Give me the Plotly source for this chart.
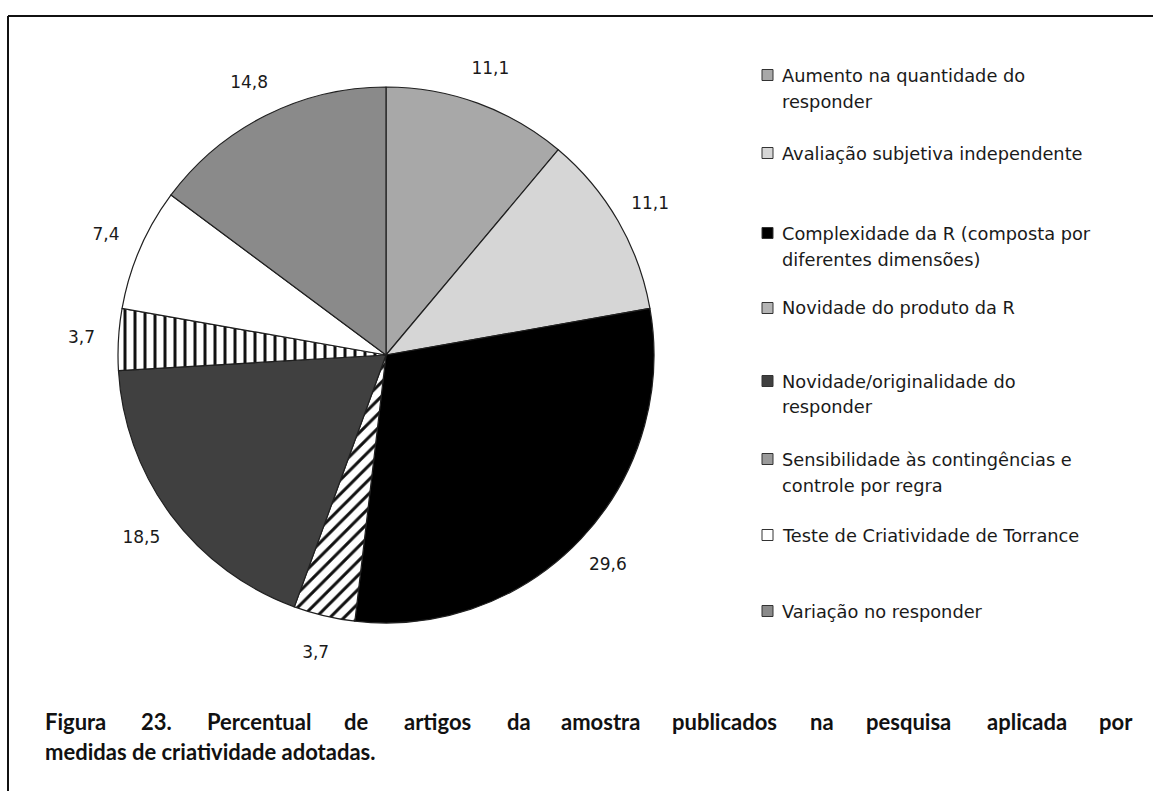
import plotly.graph_objects as go

W, H = 1153, 791

categories = [
    "Aumento na quantidade do<br>responder",
    "Avaliação subjetiva independente",
    "Complexidade da R (composta por<br>diferentes dimensões)",
    "Novidade do produto da R",
    "Novidade/originalidade do<br>responder",
    "Sensibilidade às contingências e<br>controle por regra",
    "Teste de Criatividade de Torrance",
    "Variação no responder",
]
values = [11.1, 11.1, 29.6, 3.7, 18.5, 3.7, 7.4, 14.8]
value_labels = ["11,1", "11,1", "29,6", "3,7", "18,5", "3,7", "7,4", "14,8"]
colors = ["#a8a8a8", "#d6d6d6", "#000000", "#b4b4b4", "#404040", "#9a9a9a", "#ffffff", "#8a8a8a"]
patterns = ["", "", "", "/", "", "|", "", ""]
caption_line1 = ["Figura", "23.", "Percentual", "de", "artigos", "da", "amostra",
                 "publicados", "na", "pesquisa", "aplicada", "por"]
caption_line2 = "medidas de criatividade adotadas."


def px(x):
    return x / W


def py(y):
    return 1 - y / H


cx, cy, r = 386, 355, 268
r_out = 332
r_in = 278

fig = go.Figure()
fig.add_trace(go.Pie(
    labels=categories,
    values=values,
    textinfo="none",
    sort=False,
    direction="clockwise",
    rotation=0,
    marker=dict(
        colors=colors,
        line=dict(color="#202020", width=1.2),
        pattern=dict(shape=patterns, fgcolor="#111111", size=10, solidity=0.3),
    ),
    domain=dict(x=[px(cx - r), px(cx + r)], y=[py(cy + r), py(cy - r)]),
    showlegend=False,
    hoverinfo="label+value",
))
# transparent ring carrying the value labels just outside the pie
fig.add_trace(go.Pie(
    labels=categories,
    values=values,
    text=value_labels,
    textinfo="text",
    textposition="inside",
    insidetextorientation="horizontal",
    textfont=dict(family="DejaVu Sans", size=17, color="#1a1a1a"),
    sort=False,
    direction="clockwise",
    rotation=0,
    hole=r_in / r_out,
    marker=dict(colors=["rgba(0,0,0,0)"] * len(values), line=dict(width=0)),
    domain=dict(x=[px(cx - r_out), px(cx + r_out)], y=[py(cy + r_out), py(cy - r_out)]),
    showlegend=False,
    hoverinfo="skip",
))

annotations = []
shapes = []

# Legend (manual)
legend_y = [75, 153, 233, 308, 381, 459, 535, 611]
line_gap = 26
for lab, col, yy in zip(categories, colors, legend_y):
    shapes.append(dict(type="rect", xref="paper", yref="paper",
                       x0=px(762), x1=px(773), y0=py(yy + 5.5), y1=py(yy - 5.5),
                       fillcolor=col, line=dict(color="#333333", width=1)))
    for k, part in enumerate(lab.split("<br>")):
        annotations.append(dict(text=part, xref="paper", yref="paper",
                                x=px(780), y=py(yy + k * line_gap), xanchor="left", yanchor="middle",
                                align="left", showarrow=False,
                                font=dict(family="DejaVu Sans", size=17.8, color="#1a1a1a")))

# Caption line 1 (justified)
left, right = 43, 1135
cw = 10.5
widths = [len(w) * cw for w in caption_line1]
gap = (right - left - sum(widths)) / (len(caption_line1) - 1)
xpos = left
first_idx = len(annotations)
for word, w in zip(caption_line1, widths):
    annotations.append(dict(text="<b>%s</b>" % word, xref="paper", yref="paper",
                            x=px(xpos + w / 2), y=py(721), xanchor="center", yanchor="middle",
                            showarrow=False, font=dict(family="Lato", size=22, color="#111111")))
    xpos += w + gap
annotations[-1]["x"] = px(right)
annotations[-1]["xanchor"] = "right"
annotations[first_idx]["x"] = px(left)
annotations[first_idx]["xanchor"] = "left"
annotations.append(dict(text="<b>%s</b>" % caption_line2, xref="paper", yref="paper",
                        x=px(left), y=py(751), xanchor="left", yanchor="middle",
                        showarrow=False, font=dict(family="Lato", size=22, color="#111111")))

# Frame lines
shapes.append(dict(type="line", xref="paper", yref="paper", x0=px(8), x1=1, y0=py(16), y1=py(16),
                   line=dict(color="#111111", width=2)))
shapes.append(dict(type="line", xref="paper", yref="paper", x0=px(8), x1=px(8), y0=py(16), y1=0,
                   line=dict(color="#111111", width=2)))

fig.update_layout(
    width=W, height=H,
    margin=dict(l=0, r=0, t=0, b=0),
    paper_bgcolor="white",
    plot_bgcolor="white",
    annotations=annotations,
    shapes=shapes,
)

fig.write_html("out.html", config={"displayModeBar": False},
               post_script="document.body.style.margin='0px';")
